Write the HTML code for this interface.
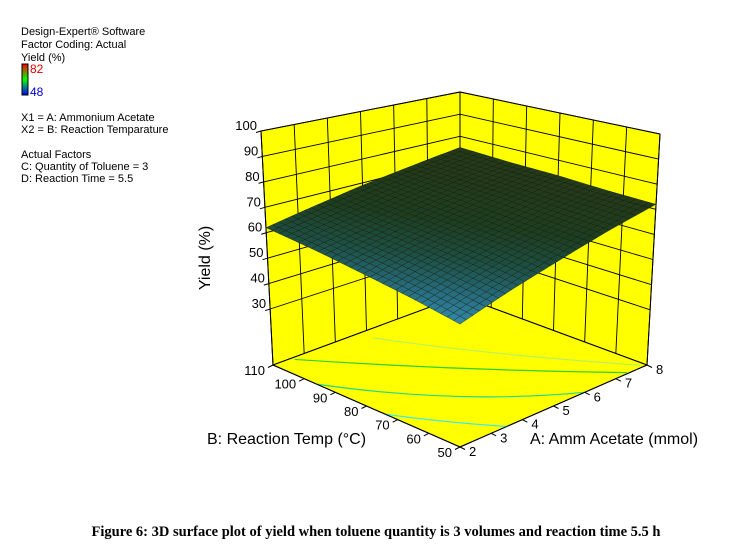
<!DOCTYPE html>
<html><head><meta charset="utf-8"><style>
html,body{margin:0;padding:0;background:#fff;}
svg{display:block;}
text{font-family:"Liberation Sans",Arial,sans-serif;}
</style></head><body>
<svg id="chart" width="748" height="556" viewBox="0 0 748 556" xmlns="http://www.w3.org/2000/svg">
<defs>
<linearGradient id="cbar" x1="0" y1="0" x2="0" y2="1">
<stop offset="0" stop-color="#ff0000"/><stop offset="0.5" stop-color="#00ff00"/><stop offset="1" stop-color="#0000ff"/>
</linearGradient>
</defs>
<g font-size="11" fill="#000">
<text x="21" y="35">Design-Expert® Software</text>
<text x="21" y="48">Factor Coding: Actual</text>
<text x="21" y="61">Yield (%)</text>
<rect x="22" y="64" width="6" height="31" fill="url(#cbar)" stroke="#000" stroke-width="1"/>
<text x="30" y="73" fill="#e00000" font-size="12">82</text>
<text x="30" y="96" fill="#0000e0" font-size="12">48</text>
<text x="21" y="121">X1 = A: Ammonium Acetate</text>
<text x="21" y="133">X2 = B: Reaction Temparature</text>
<text x="21" y="158">Actual Factors</text>
<text x="21" y="170">C: Quantity of Toluene = 3</text>
<text x="21" y="182">D: Reaction Time = 5.5</text>
</g>
<g id="plot"></g>
<text transform="translate(210,258) rotate(-90)" text-anchor="middle" font-size="16">Yield (%)</text>
<text x="530" y="444" font-size="16">A: Amm Acetate (mmol)</text>
<text x="207" y="444" font-size="16">B: Reaction Temp (°C)</text>
<text x="376" y="536" text-anchor="middle" style="font-family:'Liberation Serif',serif;font-weight:bold;font-size:14.5px">Figure 6: 3D surface plot of yield when toluene quantity is 3 volumes and reaction time 5.5 h</text>
</svg>
<script>
const aTicks=[2,3,4,5,6,7,8];
const bTicks=[50,60,70,80,90,100,110];
const zTicks=[30,40,50,60,70,80,90,100];
const surfA=[2,3.5,5,6.5,8];
const surfB=[50,65,80,95,110];
const surfZ=[
 [52,57.5,62.5,67.5,72],
 [55,60,64.5,68.5,72.5],
 [57.5,62,66,70,73.5],
 [60,63.5,67.5,71,74],
 [62,65.5,69,72,75]
];
const contourA=[[4.8,6.2,7.9],[2.6,5,7.4],[2,3.8,6],[2,2.7,3.5]];
const contourB=[[106,80,51],[109,80,50.5],[96,70,50],[74,62,50]];
const contourColors=['#b8f060','#30d030','#20d890','#30e8ff'];

const Amin=2,Amax=8,Bmin=50,Bmax=110,Zfloor=8,Ztop=100;
const botC={F:[460,447],R:[647,365],L:[273,365],K:[460,296]};
const topC={F:[460,190],R:[660,134],L:[261,131],K:[460,92]};
function proj(a,b,z){
  const u=(a-Amin)/(Amax-Amin), v=(b-Bmin)/(Bmax-Bmin), t=(z-Zfloor)/(Ztop-Zfloor);
  const c=k=>[botC[k][0]+(topC[k][0]-botC[k][0])*t, botC[k][1]+(topC[k][1]-botC[k][1])*t];
  const F=c('F'),R=c('R'),L=c('L'),K=c('K');
  const w=[(1-u)*(1-v),u*(1-v),(1-u)*v,u*v];
  return [F[0]*w[0]+R[0]*w[1]+L[0]*w[2]+K[0]*w[3], F[1]*w[0]+R[1]*w[1]+L[1]*w[2]+K[1]*w[3]];
}
const NS='http://www.w3.org/2000/svg';
const g=document.getElementById('plot');
function mk(tag,attrs){const e=document.createElementNS(NS,tag);for(const k in attrs)e.setAttribute(k,attrs[k]);g.appendChild(e);return e;}
function pts(arr){return arr.map(p=>p[0].toFixed(1)+','+p[1].toFixed(1)).join(' ');}

let w1=mk('polygon',{points:pts([proj(Amin,Bmax,Zfloor),proj(Amax,Bmax,Zfloor),proj(Amax,Bmax,Ztop),proj(Amin,Bmax,Ztop)]),fill:'#ffff00',stroke:'#000','stroke-width':1});


let w2=mk('polygon',{points:pts([proj(Amax,Bmin,Zfloor),proj(Amax,Bmax,Zfloor),proj(Amax,Bmax,Ztop),proj(Amax,Bmin,Ztop)]),fill:'#ffff00',stroke:'#000','stroke-width':1});


let fl=mk('polygon',{points:pts([proj(Amin,Bmin,Zfloor),proj(Amax,Bmin,Zfloor),proj(Amax,Bmax,Zfloor),proj(Amin,Bmax,Zfloor)]),fill:'#ffff00',stroke:'#000','stroke-width':1});


aTicks.slice(1,-1).forEach(a=>{const p=proj(a,Bmax,Zfloor),q=proj(a,Bmax,Ztop);
 const l=mk('line',{x1:p[0],y1:p[1],x2:q[0],y2:q[1],stroke:'#000','stroke-width':0.9});
 
 });
bTicks.slice(1,-1).forEach(b=>{const p=proj(Amax,b,Zfloor),q=proj(Amax,b,Ztop);
 const l=mk('line',{x1:p[0],y1:p[1],x2:q[0],y2:q[1],stroke:'#000','stroke-width':0.9});
 
 });
zTicks.forEach(z=>{const p=proj(Amin,Bmax,z),q=proj(Amax,Bmax,z),r=proj(Amax,Bmin,z);
 const l=mk('polyline',{points:pts([p,q,r]),fill:'none',stroke:'#000','stroke-width':0.9});
 
 });
contourA.forEach((ca,i)=>{
 const P=ca.map((a,j)=>proj(a,contourB[i][j],Zfloor));
 const d='M'+P[0][0]+','+P[0][1]+' Q'+(2*P[1][0]-(P[0][0]+P[2][0])/2)+','+(2*P[1][1]-(P[0][1]+P[2][1])/2)+' '+P[2][0]+','+P[2][1];
 const l=mk('path',{d:d,fill:'none',stroke:contourColors[i],'stroke-width':1.2});
 
 });
[[proj(Amin,Bmin,Zfloor),proj(Amax,Bmin,Zfloor)],[proj(Amin,Bmin,Zfloor),proj(Amin,Bmax,Zfloor)],[proj(Amin,Bmax,Zfloor),proj(Amin,Bmax,Ztop)],[proj(Amax,Bmin,Zfloor),proj(Amax,Bmin,Ztop)],[proj(Amax,Bmax,Zfloor),proj(Amax,Bmax,Ztop)]].forEach(s=>{
 const l=mk('line',{x1:s[0][0],y1:s[0][1],x2:s[1][0],y2:s[1][1],stroke:'#000','stroke-width':1});
 
 });
function zAt(a,b){
 let i=0;while(i<surfA.length-2&&a>surfA[i+1])i++;
 let j=0;while(j<surfB.length-2&&b>surfB[j+1])j++;
 const s=(a-surfA[i])/(surfA[i+1]-surfA[i]), t=(b-surfB[j])/(surfB[j+1]-surfB[j]);
 return surfZ[j][i]*(1-s)*(1-t)+surfZ[j][i+1]*s*(1-t)+surfZ[j+1][i]*(1-s)*t+surfZ[j+1][i+1]*s*t;
}
const stops=[[50,[58,150,190]],[56,[40,110,130]],[61,[30,80,70]],[66,[30,62,34]],[72,[36,58,26]],[80,[40,56,24]]];
function col(z){
 if(z<=stops[0][0])return 'rgb('+stops[0][1]+')';
 for(let k=0;k<stops.length-1;k++){if(z<=stops[k+1][0]){const f=(z-stops[k][0])/(stops[k+1][0]-stops[k][0]);
  const c=stops[k][1].map((x,m)=>Math.round(x+(stops[k+1][1][m]-x)*f));return 'rgb('+c+')';}}
 return 'rgb('+stops[stops.length-1][1]+')';
}
const N=30;
const sg=document.createElementNS(NS,'g');


g.appendChild(sg);
for(let jj=N-1;jj>=0;jj--){for(let ii=N-1;ii>=0;ii--){
 const a0=Amin+(Amax-Amin)*ii/N,a1=Amin+(Amax-Amin)*(ii+1)/N,b0=Bmin+(Bmax-Bmin)*jj/N,b1=Bmin+(Bmax-Bmin)*(jj+1)/N;
 const P=[proj(a0,b0,zAt(a0,b0)),proj(a1,b0,zAt(a1,b0)),proj(a1,b1,zAt(a1,b1)),proj(a0,b1,zAt(a0,b1))];
 const c=col(zAt((a0+a1)/2,(b0+b1)/2));
 const p=document.createElementNS(NS,'polygon');
 p.setAttribute('points',pts(P));p.setAttribute('fill',c);p.setAttribute('stroke','#0d1a0d');p.setAttribute('stroke-width','0.35');
 
 
 sg.appendChild(p);
}}
aTicks.forEach(a=>{const p=proj(a,Bmin,Zfloor);
 const l=mk('line',{x1:p[0],y1:p[1],x2:p[0]+5,y2:p[1]+2.5,stroke:'#000','stroke-width':1});
 
 
 const t=mk('text',{x:p[0]+9,y:p[1]+9,'font-size':13});t.textContent=a;
 
 });
bTicks.forEach(b=>{const p=proj(Amin,b,Zfloor);
 const l=mk('line',{x1:p[0],y1:p[1],x2:p[0]-5,y2:p[1]+2.5,stroke:'#000','stroke-width':1});
 
 
 const t=mk('text',{x:p[0]-8,y:p[1]+10,'font-size':13,'text-anchor':'end'});t.textContent=b;
 
 });
zTicks.forEach(z=>{const p=proj(Amin,Bmax,z);
 const l=mk('line',{x1:p[0],y1:p[1],x2:p[0]-5,y2:p[1]+1.5,stroke:'#000','stroke-width':1});
 
 
 const t=mk('text',{x:p[0]-4,y:p[1]-1,'font-size':13,'text-anchor':'end'});t.textContent=z;
 
 });
</script>
</body></html>
